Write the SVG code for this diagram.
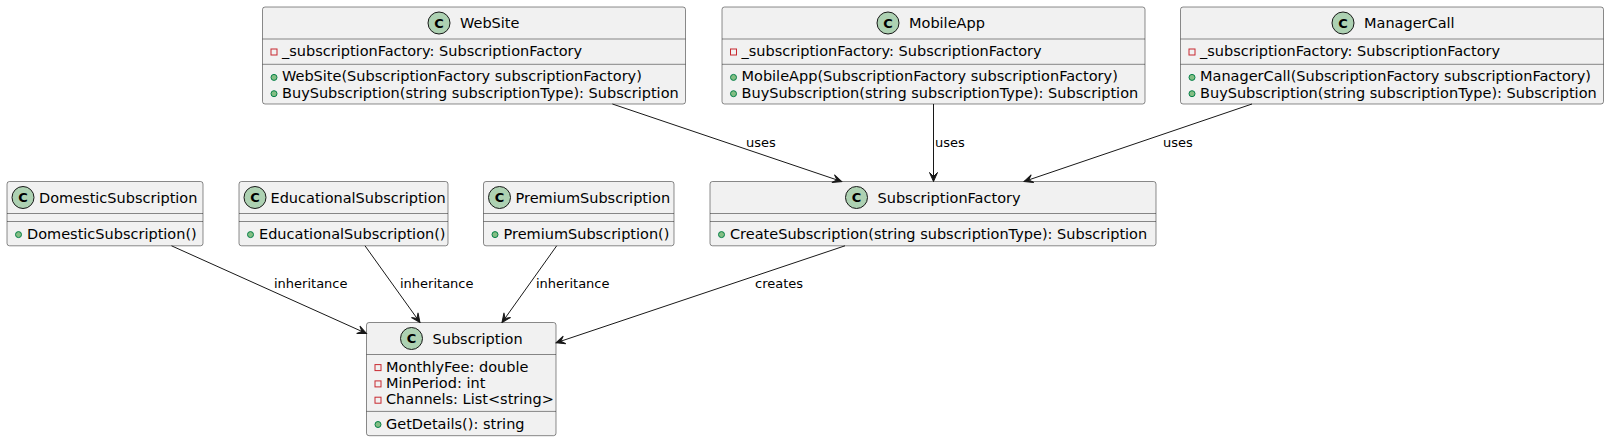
<svg xmlns="http://www.w3.org/2000/svg" width="1610" height="441" viewBox="0 0 1610 441">
<defs>
<style>
.box{fill:#F1F1F1;stroke:#181818;stroke-width:0.5}
.sep{stroke:#181818;stroke-width:0.5}
.ci{fill:#ADD1B2;stroke:#181818;stroke-width:1}
.cl{font-family:"DejaVu Sans",sans-serif;font-size:13px;font-weight:bold;fill:#000;text-anchor:middle}
.t{font-family:"DejaVu Sans",sans-serif;font-size:14.5px;fill:#000}
.lbl{font-family:"DejaVu Sans",sans-serif;font-size:13px;fill:#000}
.pub{fill:#84BE84;stroke:#038048;stroke-width:1}
.priv{fill:none;stroke:#C82930;stroke-width:1}
.edge{fill:none;stroke:#181818;stroke-width:1}
</style>
<marker id="arr" viewBox="-10 -5 11 10" refX="0" refY="0" markerWidth="11" markerHeight="10" markerUnits="userSpaceOnUse" orient="auto">
<path d="M0,0 L-9,-4 L-5,0 L-9,4 Z" fill="#181818" stroke="#181818" stroke-width="1"/>
</marker>
</defs>
<rect width="1610" height="441" fill="#FFFFFF"/>

<g id="WebSite">
<rect class="box" x="262.5" y="7" width="423" height="97" rx="2.5"/>
<circle class="ci" cx="439" cy="23" r="11"/><text class="cl" x="439" y="27.7">C</text>
<text class="t" x="460" y="28.2">WebSite</text>
<line class="sep" x1="262.5" y1="39" x2="685.5" y2="39"/>
<rect class="priv" x="271" y="49" width="6" height="6"/>
<text class="t" x="282" y="56.1">_subscriptionFactory: SubscriptionFactory</text>
<line class="sep" x1="262.5" y1="64.3" x2="685.5" y2="64.3"/>
<circle class="pub" cx="274" cy="77.4" r="3"/>
<text class="t" x="282" y="81.4">WebSite(SubscriptionFactory subscriptionFactory)</text>
<circle class="pub" cx="274" cy="93.7" r="3"/>
<text class="t" x="282" y="97.7">BuySubscription(string subscriptionType): Subscription</text>
</g>

<g id="MobileApp">
<rect class="box" x="722" y="7" width="423" height="97" rx="2.5"/>
<circle class="ci" cx="888" cy="23" r="11"/><text class="cl" x="888" y="27.7">C</text>
<text class="t" x="909" y="28.2">MobileApp</text>
<line class="sep" x1="722" y1="39" x2="1145" y2="39"/>
<rect class="priv" x="730.5" y="49" width="6" height="6"/>
<text class="t" x="741.5" y="56.1">_subscriptionFactory: SubscriptionFactory</text>
<line class="sep" x1="722" y1="64.3" x2="1145" y2="64.3"/>
<circle class="pub" cx="733.5" cy="77.4" r="3"/>
<text class="t" x="741.5" y="81.4">MobileApp(SubscriptionFactory subscriptionFactory)</text>
<circle class="pub" cx="733.5" cy="93.7" r="3"/>
<text class="t" x="741.5" y="97.7">BuySubscription(string subscriptionType): Subscription</text>
</g>

<g id="ManagerCall">
<rect class="box" x="1180.5" y="7" width="423" height="97" rx="2.5"/>
<circle class="ci" cx="1343" cy="23" r="11"/><text class="cl" x="1343" y="27.7">C</text>
<text class="t" x="1364" y="28.2">ManagerCall</text>
<line class="sep" x1="1180.5" y1="39" x2="1603.5" y2="39"/>
<rect class="priv" x="1189" y="49" width="6" height="6"/>
<text class="t" x="1200" y="56.1">_subscriptionFactory: SubscriptionFactory</text>
<line class="sep" x1="1180.5" y1="64.3" x2="1603.5" y2="64.3"/>
<circle class="pub" cx="1192" cy="77.4" r="3"/>
<text class="t" x="1200" y="81.4">ManagerCall(SubscriptionFactory subscriptionFactory)</text>
<circle class="pub" cx="1192" cy="93.7" r="3"/>
<text class="t" x="1200" y="97.7">BuySubscription(string subscriptionType): Subscription</text>
</g>

<g id="DomesticSubscription">
<rect class="box" x="7" y="181.5" width="196" height="64.3" rx="2.5"/>
<circle class="ci" cx="23" cy="197.5" r="11"/><text class="cl" x="23" y="202.2">C</text>
<text class="t" x="39" y="202.7">DomesticSubscription</text>
<line class="sep" x1="7" y1="213.5" x2="203" y2="213.5"/>
<line class="sep" x1="7" y1="221.5" x2="203" y2="221.5"/>
<circle class="pub" cx="18.5" cy="234.6" r="3"/>
<text class="t" x="27" y="238.6">DomesticSubscription()</text>
</g>

<g id="EducationalSubscription">
<rect class="box" x="239" y="181.5" width="209" height="64.3" rx="2.5"/>
<circle class="ci" cx="255" cy="197.5" r="11"/><text class="cl" x="255" y="202.2">C</text>
<text class="t" x="270.5" y="202.7">EducationalSubscription</text>
<line class="sep" x1="239" y1="213.5" x2="448" y2="213.5"/>
<line class="sep" x1="239" y1="221.5" x2="448" y2="221.5"/>
<circle class="pub" cx="250.5" cy="234.6" r="3"/>
<text class="t" x="259" y="238.6">EducationalSubscription()</text>
</g>

<g id="PremiumSubscription">
<rect class="box" x="483.5" y="181.5" width="190.5" height="64.3" rx="2.5"/>
<circle class="ci" cx="499.5" cy="197.5" r="11"/><text class="cl" x="499.5" y="202.2">C</text>
<text class="t" x="515.5" y="202.7">PremiumSubscription</text>
<line class="sep" x1="483.5" y1="213.5" x2="674" y2="213.5"/>
<line class="sep" x1="483.5" y1="221.5" x2="674" y2="221.5"/>
<circle class="pub" cx="495" cy="234.6" r="3"/>
<text class="t" x="503.5" y="238.6">PremiumSubscription()</text>
</g>

<g id="SubscriptionFactory">
<rect class="box" x="710" y="181.5" width="446" height="64.3" rx="2.5"/>
<circle class="ci" cx="856.5" cy="197.5" r="11"/><text class="cl" x="856.5" y="202.2">C</text>
<text class="t" x="877.5" y="202.7">SubscriptionFactory</text>
<line class="sep" x1="710" y1="213.5" x2="1156" y2="213.5"/>
<line class="sep" x1="710" y1="221.5" x2="1156" y2="221.5"/>
<circle class="pub" cx="721.5" cy="234.6" r="3"/>
<text class="t" x="730" y="238.6">CreateSubscription(string subscriptionType): Subscription</text>
</g>

<g id="Subscription">
<rect class="box" x="366.5" y="322.5" width="189.5" height="113.2" rx="2.5"/>
<circle class="ci" cx="411.5" cy="338.5" r="11"/><text class="cl" x="411.5" y="343.2">C</text>
<text class="t" x="432.5" y="343.7">Subscription</text>
<line class="sep" x1="366.5" y1="354.5" x2="556" y2="354.5"/>
<rect class="priv" x="375" y="364.6" width="6" height="6"/>
<text class="t" x="386" y="371.6">MonthlyFee: double</text>
<rect class="priv" x="375" y="380.9" width="6" height="6"/>
<text class="t" x="386" y="387.9">MinPeriod: int</text>
<rect class="priv" x="375" y="397.2" width="6" height="6"/>
<text class="t" x="386" y="404.2">Channels: List&lt;string&gt;</text>
<line class="sep" x1="366.5" y1="411.4" x2="556" y2="411.4"/>
<circle class="pub" cx="378" cy="424.5" r="3"/>
<text class="t" x="386" y="428.5">GetDetails(): string</text>
</g>

<g id="connectors">
<path class="edge" d="M612.4,104 L841.7,181.5" marker-end="url(#arr)"/>
<text class="lbl" x="746" y="146.5">uses</text>
<path class="edge" d="M933.5,104 L933.5,181.5" marker-end="url(#arr)"/>
<text class="lbl" x="935" y="146.5">uses</text>
<path class="edge" d="M1252,104 L1024,181.5" marker-end="url(#arr)"/>
<text class="lbl" x="1163" y="146.5">uses</text>
<path class="edge" d="M845,245.8 L556,342.8" marker-end="url(#arr)"/>
<text class="lbl" x="755" y="287.8">creates</text>
<path class="edge" d="M171.5,245.8 L366.5,333.5" marker-end="url(#arr)"/>
<text class="lbl" x="274" y="287.8">inheritance</text>
<path class="edge" d="M365,245.8 L420,322.5" marker-end="url(#arr)"/>
<text class="lbl" x="400" y="287.8">inheritance</text>
<path class="edge" d="M556.7,245.8 L502,322.5" marker-end="url(#arr)"/>
<text class="lbl" x="536" y="287.8">inheritance</text>
</g>
</svg>
